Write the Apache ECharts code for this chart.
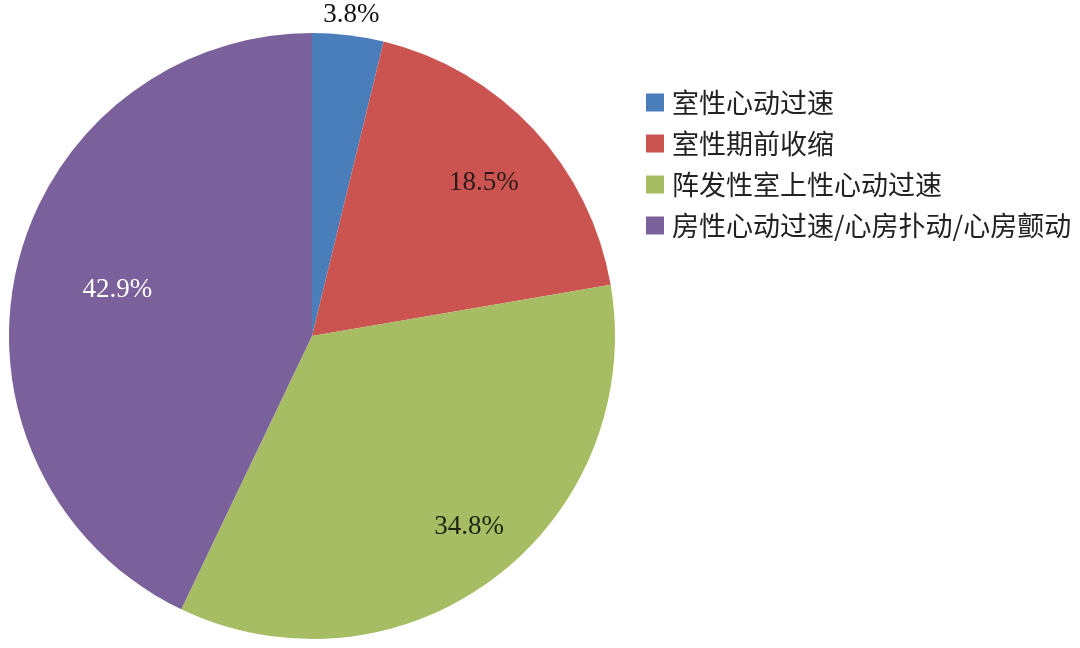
<!DOCTYPE html>
<html>
<head>
<meta charset="utf-8">
<script src="https://cdn.jsdelivr.net/npm/echarts@6/dist/echarts.min.js"></script>
<style>html,body{margin:0;padding:0;background:#fff}#c{width:1080px;height:648px}</style>
</head>
<body>
<div id="c"></div>
<script>
const categories = ['室性心动过速', '室性期前收缩', '阵发性室上性心动过速', '房性心动过速/心房扑动/心房颤动'];
const values = [3.8, 18.5, 34.8, 42.9];
const colors = ['#4a7ebb', '#cb5350', '#a6bd63', '#7a619b'];
const labelColors = ['#111', '#2a1a1a', '#1e2410', '#ffffff'];
const labelOffsets = [[21, -168], [59, -48], [64, 68], [-44, -12]];

const chart = echarts.init(document.getElementById('c'));
chart.setOption({
  animation: false,
  legend: {
    orient: 'vertical',
    left: 646,
    top: 89,
    padding: 0,
    icon: 'rect',
    itemWidth: 18,
    itemHeight: 18,
    itemGap: 14,
    data: categories,
    textStyle: {
      fontFamily: 'Noto Sans CJK SC',
      fontSize: 27,
      lineHeight: 27,
      color: '#222',
      padding: [0, 0, 0, 3]
    }
  },
  series: [{
    type: 'pie',
    center: [312, 336],
    radius: [0, 303],
    startAngle: 90,
    clockwise: true,
    label: {
      position: 'inside',
      fontFamily: 'Liberation Serif',
      fontSize: 27,
      formatter: p => p.value.toFixed(1) + '%'
    },
    labelLine: { show: false },
    emphasis: { disabled: true },
    data: categories.map((n, i) => ({
      name: n,
      value: values[i],
      itemStyle: { color: colors[i] },
      label: { color: labelColors[i], offset: labelOffsets[i] }
    }))
  }]
});
</script>
</body>
</html>
